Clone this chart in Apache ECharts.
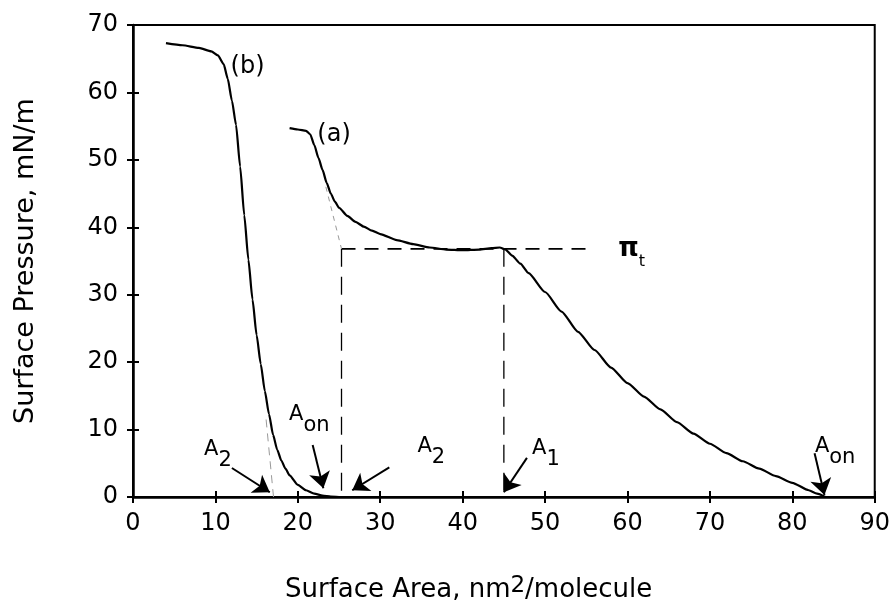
<!DOCTYPE html>
<html>
<head>
<meta charset="utf-8">
<script src="https://cdn.jsdelivr.net/npm/echarts@6/dist/echarts.min.js"></script>
<style>
  html, body { margin: 0; padding: 0; background: #fff; }
  #chart { width: 893px; height: 606px; }
</style>
</head>
<body>
<div id="chart"></div>
<script>
// 等温线 (a)
const areaA = [19.0, 20.0, 21.0, 21.5, 22.0, 22.5, 23.0, 23.5, 24.0, 24.5, 25.0, 26.0, 27.0, 28.0, 29.0, 30.0,
  32.0, 34.0, 36.0, 38.0, 40.0, 42.0, 43.5, 44.5, 45.2, 46.0, 47.0, 48.0, 50.0, 52.0, 54.0, 56.0, 58.0,
  60.0, 62.0, 64.0, 66.0, 68.0, 70.0, 72.0, 74.0, 76.0, 78.0, 80.0, 82.0, 83.0, 84.0]
const pressA = [54.7, 54.5, 54.3, 53.8, 52.2, 50.3, 48.5, 46.6, 45.0, 43.8, 42.9, 41.7, 40.8, 40.1, 39.5, 39.0,
  38.1, 37.5, 37.0, 36.7, 36.6, 36.7, 36.9, 37.0, 36.7, 35.8, 34.6, 33.2, 30.4, 27.5, 24.5, 21.8, 19.2,
  16.9, 14.9, 13.0, 11.1, 9.4, 7.9, 6.5, 5.3, 4.2, 3.1, 2.1, 1.0, 0.5, 0.0]
// 等温线 (b)
const areaB = [4.0, 6.0, 8.0, 9.5, 10.3, 11.0, 11.5, 12.0, 12.5, 13.0, 13.5, 14.0, 14.5, 15.0, 15.5, 16.0,
  16.5, 17.0, 17.5, 18.0, 18.5, 19.0, 20.0, 21.0, 22.0, 23.0, 24.0, 25.0]
const pressB = [67.3, 67.0, 66.6, 66.1, 65.5, 64.2, 62.0, 58.8, 55.2, 49.0, 41.8, 35.2, 29.3, 24.0, 19.7, 15.7,
  12.3, 9.2, 7.0, 5.4, 4.2, 3.2, 1.8, 1.0, 0.5, 0.2, 0.05, 0.0]

// 刻度
const xTicks = [0, 10, 20, 30, 40, 50, 60, 70, 80, 90]
const yTicks = [0, 10, 20, 30, 40, 50, 60, 70]

// 辅助虚线 (数据坐标)
const piT = 36.8
const guideHoriz = [[25.3, piT], [55.0, piT]]
const guideA1 = [[45.0, piT], [45.0, 0]]
const guideA2 = [[25.3, piT], [25.3, 0]]
const tangentA = [[23.4, 46.0], [25.3, piT]]
const tangentB = [[16.15, 11.5], [17.05, 0]]

// 箭头 起点 -> 终点
const arrowFrom = [[12.0, 4.3], [21.8, 7.7], [31.1, 4.4], [47.8, 5.8], [82.7, 6.5]]
const arrowTo = [[16.6, 0.7], [23.1, 1.3], [26.6, 1.0], [45.0, 0.7], [83.9, 0.3]]

// 标注文字
const noteText = ['{a|A}{s|2}', '{a|A}{s|on}', '{a|A}{s|2}', '{a|A}{s|1}', '{a|A}{s|on}', '{p|π}{t|t}', '{c|(a)}', '{c|(b)}']
const notePos = [[10.3, 6.2], [21.4, 11.4], [36.2, 6.7], [50.1, 6.3], [85.2, 6.7], [60.5, 36.2], [24.4, 53.7], [13.9, 63.8]]

const FONT = '"DejaVu Sans", sans-serif'
const zip = (xs, ys) => xs.map((x, i) => [x, ys[i]])

const chart = echarts.init(document.getElementById('chart'))

const xBase = {
  type: 'value',
  min: xTicks[0],
  max: xTicks[xTicks.length - 1],
  interval: xTicks[1] - xTicks[0],
  splitLine: { show: false }
}
const yBase = {
  type: 'value',
  min: yTicks[0],
  max: yTicks[yTicks.length - 1],
  interval: yTicks[1] - yTicks[0],
  splitLine: { show: false }
}

const dashed = (pts, w, color, dash) => ({
  type: 'line',
  data: pts,
  showSymbol: false,
  silent: true,
  lineStyle: { color: color, width: w, type: dash },
  z: 1
})

const txt = (size, extra) => Object.assign({
  fontSize: size, fontFamily: FONT, color: '#000', textBorderWidth: 0, opacity: 1
}, extra)

const option = {
  animation: false,
  backgroundColor: '#fff',
  grid: {
    left: 133, right: 16, top: 25, bottom: 109,
    show: true, borderColor: '#000', borderWidth: 2
  },
  xAxis: [
    Object.assign({}, xBase, {
      position: 'bottom',
      axisLine: { show: true, lineStyle: { color: '#000', width: 2.5 } },
      axisTick: { show: true, length: 6, lineStyle: { color: '#000', width: 2 } },
      axisLabel: { color: '#000', fontSize: 24, fontFamily: FONT, margin: 15 }
    }),
    // 轴内侧刻度
    Object.assign({}, xBase, {
      position: 'bottom',
      axisLine: { show: false },
      axisTick: { show: true, inside: true, length: 6, lineStyle: { color: '#000', width: 2 } },
      axisLabel: { show: false }
    })
  ],
  yAxis: [
    Object.assign({}, yBase, {
      position: 'left',
      name: 'Surface Pressure, mN/m',
      nameLocation: 'middle',
      nameGap: 94,
      nameTextStyle: { color: '#000', fontSize: 27, fontFamily: FONT },
      axisLine: { show: true, lineStyle: { color: '#000', width: 2.5 } },
      axisTick: { show: true, length: 6, lineStyle: { color: '#000', width: 2 } },
      axisLabel: { color: '#000', fontSize: 24, fontFamily: FONT, margin: 15 }
    }),
    Object.assign({}, yBase, {
      position: 'left',
      axisLine: { show: false },
      axisTick: { show: true, inside: true, length: 6, lineStyle: { color: '#000', width: 2 } },
      axisLabel: { show: false }
    })
  ],
  graphic: [{
    type: 'text',
    left: 285,
    top: 575,
    style: {
      text: '{t|Surface Area, nm}{p|2}{t|/molecule}',
      fill: '#000',
      font: '26px ' + FONT,
      rich: {
        t: { fontSize: 26, fontFamily: FONT, lineHeight: 28, verticalAlign: 'bottom', fill: '#000' },
        p: { fontSize: 23, fontFamily: FONT, lineHeight: 28, verticalAlign: 'top', fill: '#000' }
      }
    }
  }],
  series: [
    dashed(guideHoriz, 1.6, '#000', [14, 9]),
    dashed(guideA1, 1.3, '#000', [18, 10]),
    dashed(guideA2, 1.3, '#000', [18, 10]),
    dashed(tangentA, 1, '#999', [5, 5]),
    dashed(tangentB, 1, '#999', [8, 6]),
    {
      name: '(a)',
      type: 'line',
      data: zip(areaA, pressA),
      showSymbol: false,
      smooth: 0.2,
      smoothMonotone: 'x',
      lineStyle: { color: '#000', width: 2.2 },
      z: 3
    },
    {
      name: '(b)',
      type: 'line',
      data: zip(areaB, pressB),
      showSymbol: false,
      smooth: 0.2,
      smoothMonotone: 'x',
      lineStyle: { color: '#000', width: 2.2 },
      z: 3
    },
    {
      type: 'lines',
      coordinateSystem: 'cartesian2d',
      data: arrowFrom.map((p, i) => ({ coords: [p, arrowTo[i]] })),
      symbol: ['none', 'arrow'],
      symbolSize: 16,
      lineStyle: { color: '#000', width: 2, opacity: 1, curveness: 0 },
      z: 4
    },
    {
      type: 'scatter',
      data: notePos.map((p, i) => ({ value: p, txt: noteText[i] })),
      symbolSize: 0,
      silent: true,
      itemStyle: { color: '#000' },
      label: {
        show: true,
        position: 'inside',
        color: '#000',
        textBorderWidth: 0,
        formatter: (p) => p.data.txt,
        rich: {
          a: txt(21, { lineHeight: 22, verticalAlign: 'top' }),
          s: txt(21, { lineHeight: 32, verticalAlign: 'bottom' }),
          p: txt(26, { fontWeight: 'bold', lineHeight: 26, verticalAlign: 'top' }),
          t: txt(16, { lineHeight: 34, verticalAlign: 'bottom' }),
          c: txt(24, {})
        }
      },
      z: 5
    }
  ]
}

chart.setOption(option)
</script>
</body>
</html>
